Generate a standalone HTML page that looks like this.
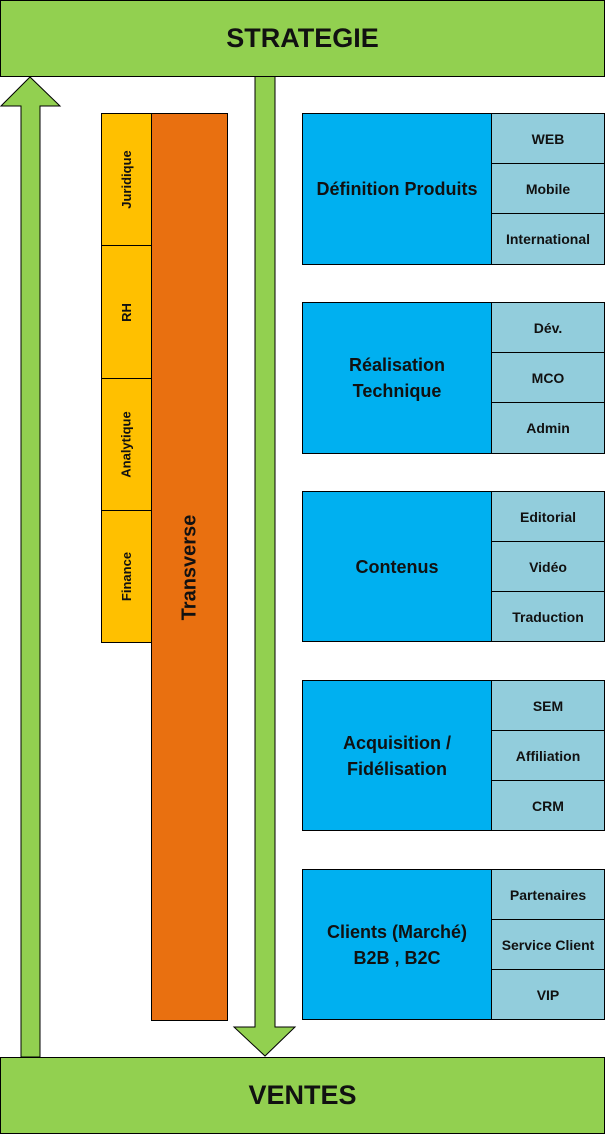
<!DOCTYPE html>
<html><head><meta charset="utf-8"><style>
body{margin:0;width:605px;height:1134px;position:relative;background:#fff;font-family:"Liberation Sans",sans-serif;font-weight:bold;color:#111;overflow:hidden}
.a{position:absolute;box-sizing:border-box;border:1.5px solid #000;display:flex;align-items:center;justify-content:center;text-align:center}
.g{background:#92d050}
.y{background:#ffc000;font-size:13px}
.b{background:#00b0f0;font-size:18px;line-height:26px}
.s{background:#92cddc;font-size:14px}
.v{transform:rotate(-90deg);white-space:nowrap}
</style></head><body>
<svg style="position:absolute;left:0;top:0" width="605" height="1134">
<polygon points="21,1057 21,106 1,106 30,77 60,106 40,106 40,1057" fill="#92d050" stroke="#000" stroke-width="1"/>
<polygon points="255,76 275,76 275,1027 295,1027 265,1056 234,1027 255,1027" fill="#92d050" stroke="#000" stroke-width="1"/>
</svg>
<div class="a g" style="left:0;top:0;width:605px;height:77px;font-size:27px">STRATEGIE</div>
<div class="a g" style="left:0;top:1057px;width:605px;height:77px;font-size:27px">VENTES</div>

<div class="a y" style="left:101px;top:113px;width:51px;height:133px"><span class="v">Juridique</span></div>
<div class="a y" style="left:101px;top:245px;width:51px;height:134px"><span class="v">RH</span></div>
<div class="a y" style="left:101px;top:378px;width:51px;height:133px"><span class="v">Analytique</span></div>
<div class="a y" style="left:101px;top:510px;width:51px;height:133px"><span class="v">Finance</span></div>
<div class="a" style="left:151px;top:113px;width:77px;height:908px;background:#e97010;font-size:20px"><span class="v">Transverse</span></div>

<div class="a b" style="left:302px;top:113px;width:190px;height:152px">Définition Produits</div>
<div class="a s" style="left:491px;top:113px;width:114px;height:51px">WEB</div>
<div class="a s" style="left:491px;top:163px;width:114px;height:51px">Mobile</div>
<div class="a s" style="left:491px;top:213px;width:114px;height:52px">International</div>

<div class="a b" style="left:302px;top:302px;width:190px;height:152px">Réalisation<br>Technique</div>
<div class="a s" style="left:491px;top:302px;width:114px;height:51px">Dév.</div>
<div class="a s" style="left:491px;top:352px;width:114px;height:51px">MCO</div>
<div class="a s" style="left:491px;top:402px;width:114px;height:52px">Admin</div>

<div class="a b" style="left:302px;top:491px;width:190px;height:151px">Contenus</div>
<div class="a s" style="left:491px;top:491px;width:114px;height:51px">Editorial</div>
<div class="a s" style="left:491px;top:541px;width:114px;height:51px">Vidéo</div>
<div class="a s" style="left:491px;top:591px;width:114px;height:51px">Traduction</div>

<div class="a b" style="left:302px;top:680px;width:190px;height:151px">Acquisition /<br>Fidélisation</div>
<div class="a s" style="left:491px;top:680px;width:114px;height:51px">SEM</div>
<div class="a s" style="left:491px;top:730px;width:114px;height:51px">Affiliation</div>
<div class="a s" style="left:491px;top:780px;width:114px;height:51px">CRM</div>

<div class="a b" style="left:302px;top:869px;width:190px;height:151px">Clients (Marché)<br>B2B , B2C</div>
<div class="a s" style="left:491px;top:869px;width:114px;height:51px">Partenaires</div>
<div class="a s" style="left:491px;top:919px;width:114px;height:51px">Service Client</div>
<div class="a s" style="left:491px;top:969px;width:114px;height:51px">VIP</div>
</body></html>
